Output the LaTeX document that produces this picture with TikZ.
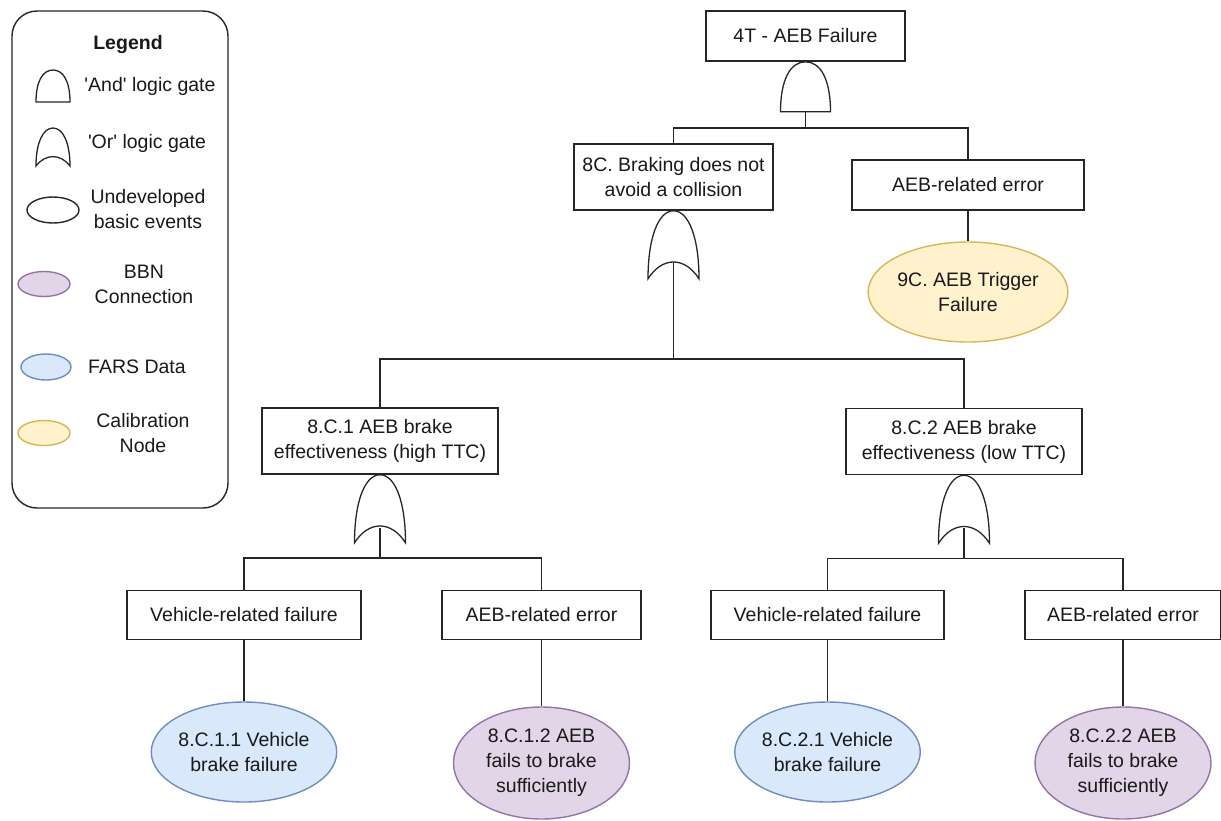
\documentclass[tikz,border=0pt]{standalone}
\usepackage{fontspec}
\setmainfont{Liberation Sans}
\usepackage{tikz}
\usepackage{xcolor}
\usetikzlibrary{shapes.geometric}

\definecolor{bbnfill}{HTML}{E1D5E7}
\definecolor{bbnline}{HTML}{9673A6}
\definecolor{farsfill}{HTML}{DAE8FC}
\definecolor{farsline}{HTML}{6C8EBF}
\definecolor{calfill}{HTML}{FFF2CC}
\definecolor{calline}{HTML}{D6B656}

% gates: top point, width, height, name of the output point
\newcommand{\andgate}[4]{%
  \draw[gate, shift={(#1)}] (-#2/2,#3) .. controls (-#2/2,0.35*#3) and (-0.3*#2,0) .. (0,0)
    .. controls (0.3*#2,0) and (#2/2,0.35*#3) .. (#2/2,#3) -- cycle;
  \coordinate (#4) at ([shift={(0,#3)}]#1);}
\newcommand{\orgate}[4]{%
  \draw[gate, shift={(#1)}] (-#2/2,#3) .. controls (-#2/2,0.4*#3) and (-0.3*#2,0) .. (0,0)
    .. controls (0.3*#2,0) and (#2/2,0.4*#3) .. (#2/2,#3)
    .. controls (0.22*#2,0.67*#3) and (-0.22*#2,0.67*#3) .. cycle;
  \coordinate (#4) at ([shift={(0,0.75*#3)}]#1);}

\begin{document}
\begin{tikzpicture}[x=1pt, y=-1pt,
    font=\fontsize{19.5}{25}\selectfont,
    every node/.style = {align=center, inner sep=0pt, text=black!90},
    event/.style = {shape=rectangle, draw=black!85, line width=1.6pt, fill=white},
    basic/.style = {shape=ellipse, line width=1.4pt},
    bbn/.style = {basic, draw=bbnline, fill=bbnfill},
    fars/.style = {basic, draw=farsline, fill=farsfill},
    calib/.style = {basic, draw=calline, fill=calfill},
    link/.style = {draw=black!85, line width=1.5pt},
    gate/.style = {draw=black!85, line width=1.3pt, fill=white}]
  \useasboundingbox (0,0) rectangle (1221,820);

  % legend
  \node[draw=black!85, rounded corners=25pt, line width=1.4pt,
    minimum width=216pt, minimum height=497pt] (legend) at (120,259.5) {};
  \node[font=\bfseries\fontsize{19.5}{25}\selectfont] (legtitle) at (128,44) {Legend};
  \andgate{53,70}{34}{32}{land}
  \node (landtxt) at (150,86) {\textquotesingle And\textquotesingle{} logic gate};
  \orgate{53,128}{34}{38}{lor}
  \node (lortxt) at (147,143) {\textquotesingle Or\textquotesingle{} logic gate};
  \node[basic, draw=black!85, minimum width=52pt, minimum height=26pt] (lund) at (53,210) {};
  \node (lundtxt) at (148,209) {Undeveloped\\basic events};
  \node[bbn, minimum width=52pt, minimum height=25pt] (lbbn) at (44,284) {};
  \node (lbbntxt) at (144,284) {BBN\\Connection};
  \node[fars, minimum width=50pt, minimum height=26pt] (lfars) at (46,367) {};
  \node (lfarstxt) at (137,367) {FARS Data};
  \node[calib, minimum width=52pt, minimum height=25pt] (lcal) at (44,433) {};
  \node (lcaltxt) at (143,433) {Calibration\\Node};

  % tree
  \node[event, minimum width=199pt, minimum height=50pt] (top) at (805.5,36) {4T - AEB Failure};
  \node[event, minimum width=199pt, minimum height=66pt] (c8) at (673.5,177) {8C. Braking does not\\avoid a collision};
  \node[event, minimum width=232pt, minimum height=50pt] (aebr) at (968,185) {AEB-related error};
  \node[calib, minimum width=174pt, minimum height=100pt] (c9) at (968,292) {9C. AEB Trigger\\Failure};
  \node[event, minimum width=236pt, minimum height=66pt] (c81) at (380,441) {8.C.1 AEB brake\\effectiveness (high TTC)};
  \node[event, minimum width=236pt, minimum height=66pt] (c82) at (964,441.5) {8.C.2 AEB brake\\effectiveness (low TTC)};
  \node[event, minimum width=234pt, minimum height=49pt] (veh1) at (244,615) {Vehicle-related failure};
  \node[event, minimum width=199pt, minimum height=49pt] (aeb1) at (541.5,615) {AEB-related error};
  \node[event, minimum width=233pt, minimum height=49pt] (veh2) at (827.5,615) {Vehicle-related failure};
  \node[event, minimum width=196pt, minimum height=49pt] (aeb2) at (1123,615) {AEB-related error};
  \node[fars, minimum width=176pt, minimum height=100pt] (e811) at (244,752) {8.C.1.1 Vehicle\\brake failure};
  \node[bbn, minimum width=176pt, minimum height=112pt] (e812) at (541.5,763) {8.C.1.2 AEB\\fails to brake\\sufficiently};
  \node[fars, minimum width=174pt, minimum height=100pt] (e821) at (827.5,752) {8.C.2.1 Vehicle\\brake failure};
  \node[bbn, minimum width=176pt, minimum height=112pt] (e822) at (1123,763) {8.C.2.2 AEB\\fails to brake\\sufficiently};

  \andgate{top.south}{50}{50}{g0}
  \draw[link] (g0) -- ++(0,16) coordinate (j0);
  \draw[link] (c8.north) |- (j0) -| (aebr.north);
  \draw[link] (aebr.south) -- (c9.north);

  \draw[link] ([shift={(0,51)}]c8.south) -- ++(0,97) coordinate (j8);
  \orgate{c8.south}{51}{68}{g8}
  \draw[link] (c81.north) |- (j8) -| (c82.north);

  \draw[link] ([shift={(0,53)}]c81.south) -- ++(0,30) coordinate (j81);
  \orgate{c81.south}{51}{68}{g81}
  \draw[link] (veh1.north) |- (j81) -| (aeb1.north);

  \draw[link] ([shift={(0,53)}]c82.south) -- ++(0,30) coordinate (j82);
  \orgate{c82.south}{51}{68}{g82}
  \draw[link] (veh2.north) |- (j82) -| (aeb2.north);

  \draw[link] (veh1.south) -- (e811.north);
  \draw[link] (aeb1.south) -- (e812.north);
  \draw[link] (veh2.south) -- (e821.north);
  \draw[link] (aeb2.south) -- (e822.north);
\end{tikzpicture}
\end{document}
